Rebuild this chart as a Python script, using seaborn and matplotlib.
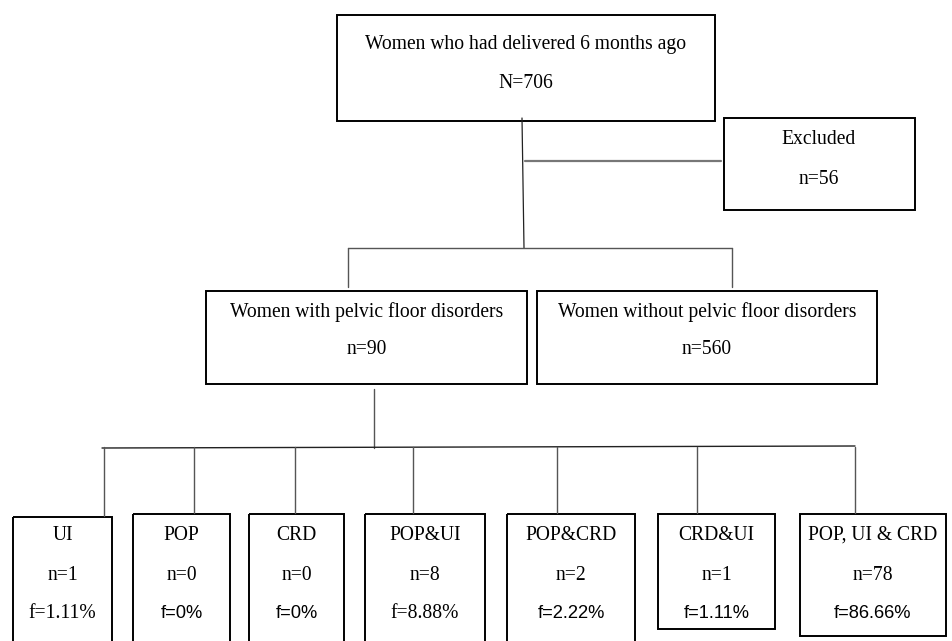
import pandas as pd
import seaborn as sns
import matplotlib.pyplot as plt
from matplotlib.patches import Rectangle

# flowchart content
top_label = "Women who had delivered 6 months ago"
top_n = "N=706"
excl_label = "Excluded"
excl_n = "n=56"
mid_labels = ["Women with pelvic floor disorders", "Women without pelvic floor disorders"]
mid_n = ["n=90", "n=560"]
sub_labels = ["UI", "POP", "CRD", "POP&UI", "POP&CRD", "CRD&UI", "POP, UI & CRD"]
sub_n = [1, 0, 0, 8, 2, 1, 78]
sub_f = ["1.11%", "0%", "0%", "8.88%", "2.22%", "1.11%", "86.66%"]
sub_f_serif = [True, False, False, True, False, False, False]

# layout (pixel space, y down)
sub_x = [(13, 112), (133, 230), (249, 344), (365, 485), (507, 635), (658, 775), (800, 946)]
sub_bottom = [650, 650, 650, 650, 650, 629, 636]
sub_top = [517, 514, 514, 514, 514, 514, 514]
sub_stem = [104, 194, 295, 413, 557, 697, 855]

sns.set_theme(style="white")
serif = ["Liberation Serif", "DejaVu Serif"]
sans = ["Liberation Sans", "DejaVu Sans"]

fig = plt.figure(figsize=(9.52, 6.41), dpi=100)
ax = fig.add_axes([0, 0, 1, 1])


def box(x0, x1, y0, y1, lw=1.4):
    ax.add_patch(Rectangle((x0, y0), x1 - x0, y1 - y0, fill=False,
                           edgecolor="black", linewidth=lw, clip_on=True))


def label(x, y, s, fam=serif, size=14.1):
    ax.text(x, y, s, ha="center", va="center", fontsize=size,
            family=fam, color="black")


# connectors drawn as line segments through seaborn
segs = [
    ("stem0", [522, 524], [118, 248], "#222222", 0.9),
    ("excl", [525, 721], [161, 161], "#777777", 1.6),
    ("bar1", [348, 732], [248, 248], "#555555", 1.0),
    ("d1a", [348, 348], [248, 287], "#555555", 1.0),
    ("d1b", [732, 732], [248, 287], "#555555", 1.0),
    ("stem1", [374, 374], [389, 448], "#555555", 1.0),
    ("bar2", [102, 855], [448, 446], "#222222", 1.0),
]
for i, xs in enumerate(sub_stem):
    segs.append((f"d2_{i}", [xs, xs], [447, sub_top[i] - 1], "#555555", 1.0))

for name, xs, ys, col, lw in segs:
    df = pd.DataFrame({"x": xs, "y": ys})
    sns.lineplot(data=df, x="x", y="y", ax=ax, color=col, linewidth=lw,
                 sort=False, estimator=None)
ax.set_xlim(0, 952)
ax.set_ylim(641, 0)
ax.axis("off")

# top box
box(337, 715, 15, 121)
label(526, 44, top_label)
label(526, 83, top_n)

# excluded box
box(724, 915, 118, 210)
label(819, 139, excl_label)
label(819, 179, excl_n)

# middle boxes
mid_x = [(206, 527), (537, 877)]
for (x0, x1), lab, n in zip(mid_x, mid_labels, mid_n):
    box(x0, x1, 291, 384)
    cx = (x0 + x1) / 2
    label(cx, 312, lab)
    label(cx, 350, n)

# bottom boxes
for i, lab in enumerate(sub_labels):
    x0, x1 = sub_x[i]
    box(x0, x1, sub_top[i], sub_bottom[i])
    cx = (x0 + x1) / 2
    label(cx, 535, lab)
    label(cx, 575, f"n={sub_n[i]}")
    if sub_f_serif[i]:
        label(cx, 614, f"f={sub_f[i]}")
    else:
        label(cx, 614, f"f={sub_f[i]}", fam=sans, size=13.2)

fig.savefig("out.png", dpi=100, facecolor="white")
